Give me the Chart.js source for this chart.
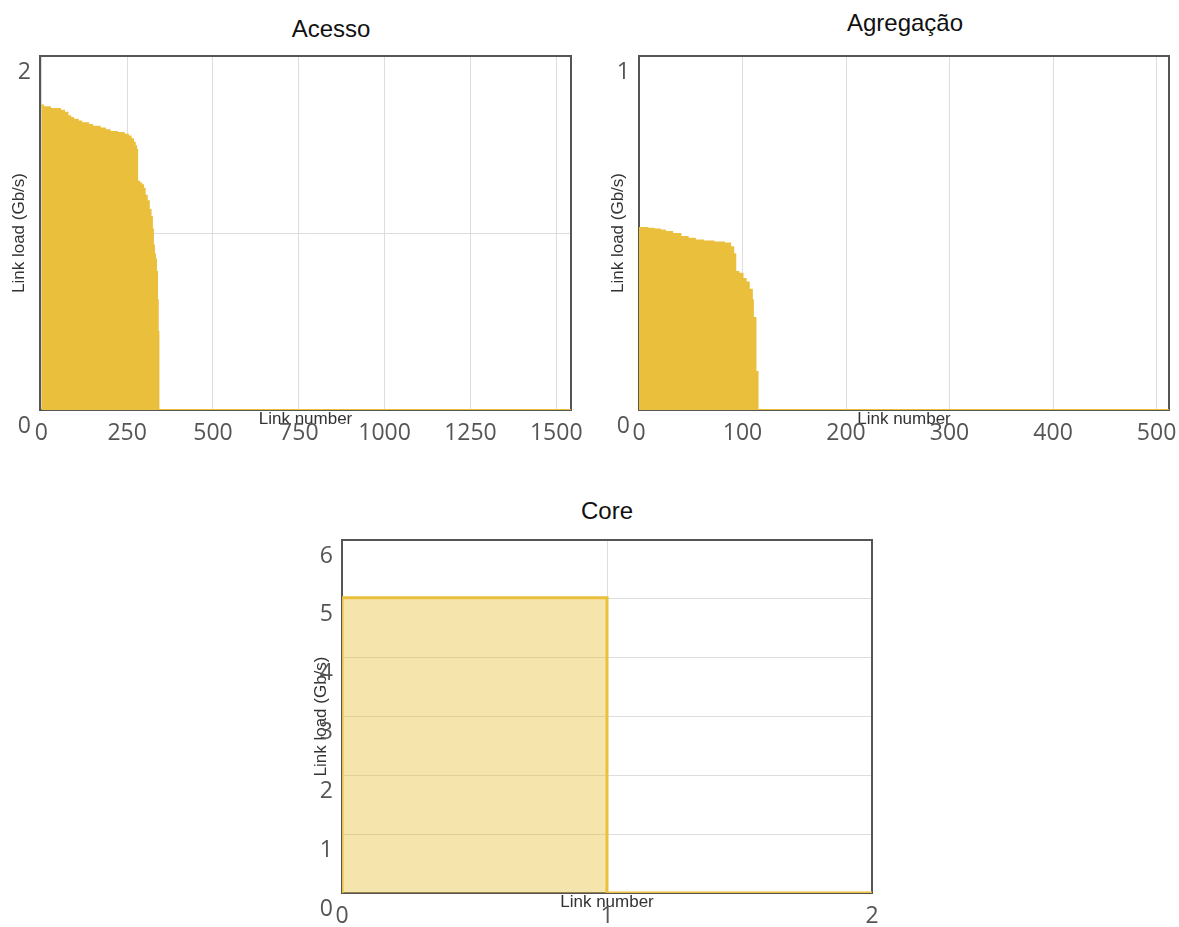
<!DOCTYPE html>
<html><head><meta charset="utf-8">
<script src="https://cdn.jsdelivr.net/npm/chart.js@4.4.0/dist/chart.umd.min.js"></script>
<style>
html,body{margin:0;padding:0;background:#fff;width:1179px;height:927px;overflow:hidden;position:relative}
canvas{position:absolute}
.title{position:absolute;font-family:"Liberation Sans",Arial,sans-serif;font-size:24px;line-height:30px;color:#111;text-align:center;width:300px;white-space:nowrap}
</style></head><body>
<div class="title" style="left:181px;top:14px">Acesso</div>
<div class="title" style="left:755px;top:8px">Agregação</div>
<div class="title" style="left:457px;top:496px">Core</div>
<canvas id="c1" width="600" height="460" style="left:0;top:0"></canvas>
<canvas id="c2" width="580" height="460" style="left:599px;top:0"></canvas>
<canvas id="c3" width="600" height="447" style="left:302px;top:480px"></canvas>
<script>
// ---- Data ----
const accessLinks = [0, 5, 25, 54, 66, 76, 84, 92, 106, 116, 136, 148, 170, 185, 199, 220, 240, 252, 260, 267, 272, 276, 279, 285, 291, 296, 301, 307, 313, 318, 322, 325, 328, 331, 334, 337, 339, 341, 1543];
const accessLoads = [1.72, 1.71, 1.70, 1.69, 1.68, 1.66, 1.65, 1.64, 1.63, 1.62, 1.61, 1.60, 1.59, 1.58, 1.57, 1.565, 1.555, 1.545, 1.53, 1.51, 1.49, 1.47, 1.29, 1.28, 1.27, 1.25, 1.21, 1.18, 1.13, 1.09, 1.02, 0.93, 0.88, 0.85, 0.78, 0.62, 0.44, 0, 0];

const aggLinks = [0, 8, 14, 20, 25, 32, 40, 47, 54, 62, 72, 82, 88, 91, 93, 96, 100, 103, 106, 109, 110, 112.5, 114.5, 512];
const aggLoads = [0.514, 0.512, 0.51, 0.507, 0.503, 0.497, 0.489, 0.484, 0.479, 0.476, 0.473, 0.47, 0.46, 0.44, 0.39, 0.385, 0.37, 0.36, 0.34, 0.31, 0.26, 0.107, 0, 0];

const coreLinks = [0, 0, 1, 2];
const coreLoads = [0, 5.02, 0, 0];

// ---- Axis ranges and tick labels ----
const accessXMin = -4, accessXMax = 1543, accessYMax = 2;
const aggXMin = 0, aggXMax = 512, aggYMax = 1;
const coreXMin = 0, coreXMax = 2, coreYMax = 6;

const accessXTicks = [0, 250, 500, 750, 1000, 1250, 1500];
const accessYTicks = [0, 1, 2];
const aggXTicks = [0, 100, 200, 300, 400, 500];
const aggYTicks = [0, 1];
const coreXTicks = [0, 1, 2];
const coreYTicks = [0, 1, 2, 3, 4, 5, 6];
const hiddenAccessYLabels = [1];

const xTitle = 'Link number';
const yTitle = 'Link load (Gb/s)';

// ---- Styling helpers ----
const YELLOW = 'rgb(234,191,60)';
const framePlugin = {
  id: 'frame',
  beforeDatasetsDraw(chart) {
    const {ctx, chartArea: a} = chart;
    ctx.save();
    ctx.strokeStyle = '#555';
    ctx.lineWidth = 2;
    ctx.strokeRect(a.left, a.top, a.right - a.left, a.bottom - a.top);
    ctx.restore();
  }
};

function makeChart(id, links, loads, xMin, xMax, xTicks, yMax, yTicks, o) {
  return new Chart(document.getElementById(id), {
    type: 'line',
    data: {
      datasets: [{
        data: links.map((x, i) => ({x: x, y: loads[i]})),
        stepped: 'before',
        fill: 'origin',
        backgroundColor: o.fill,
        borderColor: YELLOW,
        borderWidth: o.lw,
        pointRadius: 0,
        tension: 0
      }]
    },
    options: {
      responsive: false,
      animation: false,
      events: [],
      layout: {padding: o.pad},
      plugins: {legend: {display: false}, tooltip: {enabled: false}, title: {display: false}},
      scales: {
        x: {
          type: 'linear', min: xMin, max: xMax,
          afterBuildTicks(s) { s.ticks = xTicks.map(v => ({value: v})); },
          ticks: {padding: 10, color: '#555', font: {family: 'Open Sans', size: 23},
                  maxRotation: 0, autoSkip: false, callback: (v) => String(v)},
          grid: {color: '#dddddd', drawTicks: false},
          border: {display: false},
          title: {display: true, text: xTitle, color: '#333',
                  font: {family: 'Liberation Sans', size: 17}, padding: {top: 0, bottom: 10}},
          afterFit(s) { s.height = 30; s.paddingLeft = 0; s.paddingRight = 0; }
        },
        y: {
          type: 'linear', min: 0, max: yMax,
          afterBuildTicks(s) { s.ticks = yTicks.map(v => ({value: v})); },
          ticks: {padding: 9, labelOffset: 16, color: '#555',
                  font: {family: 'Open Sans', size: 23},
                  callback: o.yCb || ((v) => String(v))},
          grid: {color: '#dddddd', drawTicks: false},
          border: {display: false},
          title: {display: true, text: yTitle, color: '#333',
                  font: {family: 'Liberation Sans', size: 17}, padding: {top: 9.5, bottom: 0}},
          afterFit(s) { s.width = 40; s.paddingTop = 0; s.paddingBottom = 0; }
        }
      }
    },
    plugins: [framePlugin]
  });
}

makeChart('c1', accessLinks, accessLoads, accessXMin, accessXMax, accessXTicks, accessYMax, accessYTicks, {
  fill: YELLOW, lw: 2,
  pad: {left: 0, top: 56, right: 29, bottom: 20},
  yCb: (v) => hiddenAccessYLabels.includes(v) ? '' : String(v)
});
makeChart('c2', aggLinks, aggLoads, aggXMin, aggXMax, aggXTicks, aggYMax, aggYTicks, {
  fill: YELLOW, lw: 2,
  pad: {left: 0, top: 56, right: 10, bottom: 20}
});
makeChart('c3', coreLinks, coreLoads, coreXMin, coreXMax, coreXTicks, coreYMax, coreYTicks, {
  fill: 'rgba(234,191,60,0.42)', lw: 3,
  pad: {left: 0, top: 60, right: 30, bottom: 4}
});
</script>
</body></html>
